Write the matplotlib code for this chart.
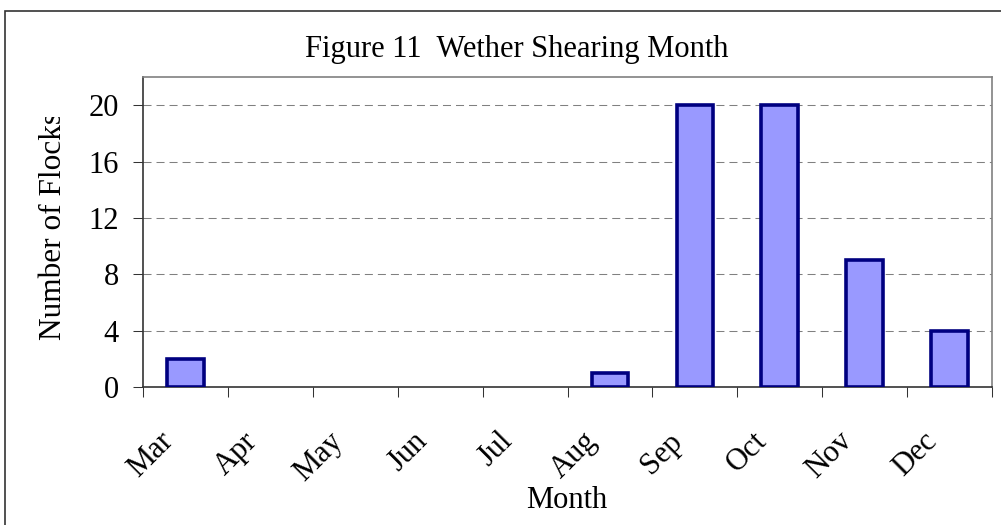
import matplotlib.pyplot as plt
import matplotlib.patches as mpatches
from matplotlib.transforms import Bbox, TransformedBbox, ScaledTranslation
import numpy as np

months = ['Mar', 'Apr', 'May', 'Jun', 'Jul', 'Aug', 'Sep', 'Oct', 'Nov', 'Dec']
flocks = [2, 0, 0, 0, 0, 1, 20, 20, 9, 4]
yticks = [0, 4, 8, 12, 16, 20]

plt.rcParams['font.family'] = ['Liberation Serif', 'DejaVu Serif']
fs = 22

fig = plt.figure(figsize=(10.01, 5.25), dpi=100)
ax = fig.add_axes([143/1001, 1-387/525, (992-143)/1001, (387-77)/525])

x = np.arange(len(months))
bars = ax.bar(x, flocks, width=0.43, color='#9999FF', edgecolor='#000080', linewidth=2.6, zorder=3)
for b, v in zip(bars, flocks):
    if v == 0:
        b.set_visible(False)  # excel draws nothing for empty months

ax.set_xlim(-0.5, len(months)-0.5)
ax.set_ylim(0, 22)
ax.set_yticks(yticks)
ax.set_yticklabels([str(v) for v in yticks], fontsize=fs)
for v in yticks[1:]:
    ax.axhline(v, color='#808080', lw=0.75, linestyle=(0, (7.7, 4.8)), zorder=1)

# boundaries get the tick marks, centres get the labels
ax.set_xticks(np.arange(len(months)+1)-0.5)
ax.set_xticklabels([])
ax.set_xticks(x, minor=True)
ax.set_xticklabels(months, minor=True, fontsize=fs, rotation=45,
                   ha='right', va='center', rotation_mode='anchor')
ax.tick_params(axis='x', which='major', length=7.2, width=0.75, color='#333333', direction='out')
ax.tick_params(axis='x', which='minor', length=0, pad=36)
ax.tick_params(axis='y', length=7.2, width=0.75, color='#333333', pad=10)
shift = ScaledTranslation(-17/100, 0, fig.dpi_scale_trans)
for lab in ax.get_xticklabels(minor=True):
    lab.set_transform(lab.get_transform() + shift)

for s in ['left', 'bottom']:
    ax.spines[s].set_color('#333333')
    ax.spines[s].set_linewidth(1.2)
for s in ['top', 'right']:
    ax.spines[s].set_color('#808080')
    ax.spines[s].set_linewidth(1.2)

fig.text(517/1001, 1-57/525, 'Figure 11  Wether Shearing Month', fontsize=fs,
         ha='center', va='baseline')
fig.text(567/1001, 1-508/525, 'Month', fontsize=fs, ha='center', va='baseline')

yl = fig.text(54/1001, 1-226/525, 'Number of Flocks', fontsize=22.5, rotation=90,
              ha='center', va='center')
yl.set_clip_on(True)
yl.set_clip_box(TransformedBbox(Bbox([[0, 0], [1, 1-117/525]]), fig.transFigure))

fig.patches.append(mpatches.Rectangle((5/1001, -0.1), 1.1, 1-11/525+0.1,
                                      transform=fig.transFigure, fill=False,
                                      edgecolor='#333333', linewidth=1.2))

fig.savefig('out.png', dpi=100)
